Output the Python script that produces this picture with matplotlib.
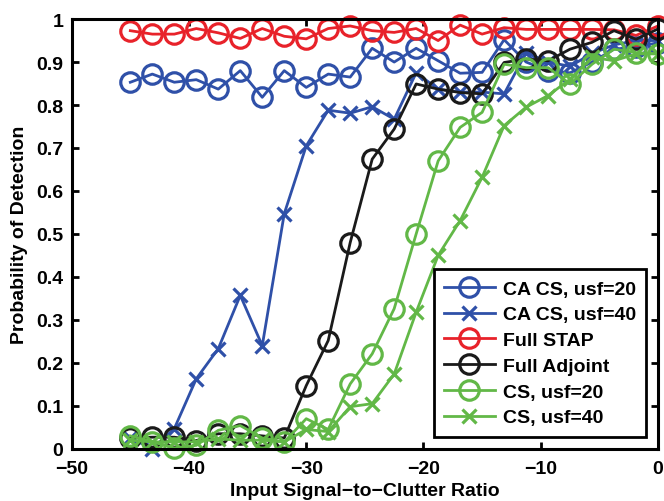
import numpy as np
import matplotlib
matplotlib.use("Agg")
import matplotlib.pyplot as plt

# SCR grid: 25 points from -45 to 0 dB
scr = np.linspace(-45, 0, 25)

ca_cs_20 = [0.853, 0.872, 0.853, 0.859, 0.837, 0.880, 0.818, 0.880, 0.841, 0.872,
            0.865, 0.932, 0.900, 0.932, 0.903, 0.874, 0.876, 0.952, 0.900, 0.880,
            0.875, 0.900, 0.930, 0.935, 0.945]
ca_cs_40 = [0.025, 0.000, 0.047, 0.163, 0.233, 0.357, 0.240, 0.547, 0.705, 0.788,
            0.781, 0.796, 0.767, 0.875, 0.837, 0.830, 0.830, 0.826, 0.922, 0.900,
            0.890, 0.920, 0.940, 0.950, 0.950]
full_stap = [0.973, 0.965, 0.965, 0.978, 0.968, 0.955, 0.978, 0.960, 0.954, 0.978,
             0.984, 0.973, 0.969, 0.978, 0.950, 0.986, 0.965, 0.980, 0.976, 0.976,
             0.976, 0.976, 0.975, 0.962, 0.984]
full_adjoint = [0.025, 0.027, 0.027, 0.019, 0.035, 0.035, 0.030, 0.025, 0.147, 0.252,
                0.480, 0.674, 0.744, 0.849, 0.837, 0.829, 0.826, 0.899, 0.907, 0.903,
                0.930, 0.946, 0.973, 0.953, 0.977]
cs_20 = [0.030, 0.016, 0.002, 0.008, 0.043, 0.054, 0.025, 0.016, 0.070, 0.045,
         0.151, 0.221, 0.326, 0.500, 0.670, 0.748, 0.783, 0.895, 0.887, 0.887,
         0.849, 0.895, 0.930, 0.922, 0.919]
cs_40 = [0.020, 0.016, 0.016, 0.016, 0.023, 0.020, 0.020, 0.016, 0.045, 0.040,
         0.098, 0.105, 0.174, 0.318, 0.450, 0.531, 0.632, 0.752, 0.795, 0.822,
         0.860, 0.911, 0.903, 0.919, 0.919]

labels = ["CA CS, usf=20", "CA CS, usf=40", "Full STAP", "Full Adjoint",
          "CS, usf=20", "CS, usf=40"]

blue = "#2F50A8"
red = "#E8222A"
black = "#1A1A1A"
green = "#62B847"

plt.rcParams['font.family'] = ['Liberation Sans', 'DejaVu Sans']
plt.rcParams['font.weight'] = 'bold'
plt.rcParams['font.size'] = 14

fig = plt.figure(figsize=(6.64, 5.02), dpi=100)
ax = fig.add_axes([0.108, 0.104, 0.883, 0.856])

ms = 14
lw = 2
series = [(ca_cs_20, blue, 'o'), (ca_cs_40, blue, 'x'), (full_stap, red, 'o'),
          (full_adjoint, black, 'o'), (cs_20, green, 'o'), (cs_40, green, 'x')]
for (vals, c, m), lab in zip(series, labels):
    if m == 'o':
        ax.plot(scr, vals, color=c, marker='o', markersize=ms, markerfacecolor='none',
                markeredgewidth=2.3, linewidth=lw, label=lab, clip_on=False)
    else:
        ax.plot(scr, vals, color=c, marker='x', markersize=10, markeredgewidth=2.3,
                linewidth=lw, label=lab, clip_on=False)

ax.set_xlim(-50, 0)
ax.set_ylim(0, 1)
ax.set_xticks(np.arange(-50, 1, 10))
ax.set_yticks(np.arange(0, 1.01, 0.1))
ax.set_yticklabels(["0", "0.1", "0.2", "0.3", "0.4", "0.5", "0.6", "0.7", "0.8", "0.9", "1"])
ax.set_xticklabels(["\u221250", "\u221240", "\u221230", "\u221220", "\u221210", "0"])
ax.tick_params(direction='in', top=True, right=True, length=5, width=2, labelsize=14)
ax.tick_params(axis='x', pad=8)
ax.tick_params(axis='y', pad=6)
for s in ax.spines.values():
    s.set_linewidth(2.2)

ax.set_xlabel("Input Signal\u2212to\u2212Clutter Ratio", fontsize=14, fontweight='bold', labelpad=4)
ax.set_ylabel("Probability of Detection", fontsize=14, fontweight='bold', labelpad=6)

leg = ax.legend(loc='lower right', fontsize=14, handlelength=2.6, labelspacing=0.42,
                borderpad=0.55, handletextpad=0.4, fancybox=False, framealpha=1,
                borderaxespad=0.6)
leg.get_frame().set_edgecolor('black')
leg.get_frame().set_linewidth(2)

fig.savefig("out.png", dpi=100)
